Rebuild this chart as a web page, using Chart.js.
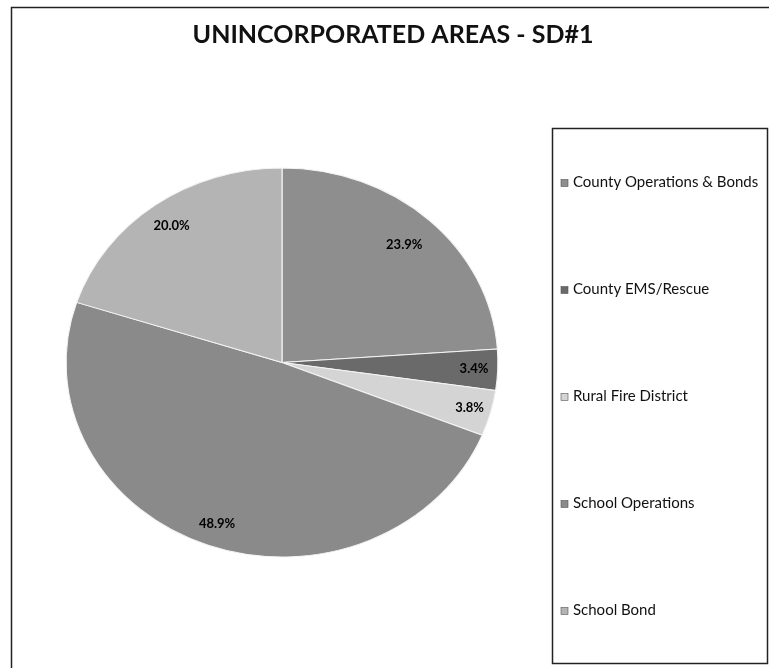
<!DOCTYPE html>
<html>
<head>
<meta charset="utf-8">
<script src="https://cdn.jsdelivr.net/npm/chart.js@4"></script>
<style>
    html, body { margin: 0; padding: 0; background: #fff; }
    #wrap { width: 769px; height: 668px; }
</style>
</head>
<body>
<div id="wrap"><canvas id="taxChart" width="769" height="668"></canvas></div>
<script>
// Data
const chartTitle = 'UNINCORPORATED AREAS - SD#1';
const categories = ['County Operations & Bonds', 'County EMS/Rescue', 'Rural Fire District', 'School Operations', 'School Bond'];
const shares = [23.9, 3.4, 3.8, 48.9, 20.0];
const sliceColors = ['#8e8e8e', '#6a6a6a', '#d4d4d4', '#8a8a8a', '#b4b4b4'];
// how far out (fraction of radius) each percent label sits
const labelRadius = [0.83, 0.89, 0.9, 0.88, 0.87];

const FONT = 'Lato, "Open Sans", sans-serif';
const STRETCH_X = 1.11; // the scanned pie is a bit wider than tall

// squash the pie horizontally around its centre
const stretchPlugin = {
    id: 'stretch',
    beforeDatasetsDraw(chart) {
        const arc = chart.getDatasetMeta(0).data[0];
        const ctx = chart.ctx;
        ctx.save();
        ctx.translate(arc.x, arc.y);
        ctx.scale(STRETCH_X, 1);
        ctx.translate(-arc.x, -arc.y);
    },
    afterDatasetsDraw(chart) {
        chart.ctx.restore();
    }
};

// Frame, title and boxed legend, drawn around the pie
const decorPlugin = {
    id: 'decor',
    beforeDraw(chart) {
        const ctx = chart.ctx;
        ctx.save();
        ctx.fillStyle = '#fff';
        ctx.fillRect(0, 0, chart.width, chart.height);
        ctx.strokeStyle = '#222';
        ctx.lineWidth = 1.5;
        ctx.strokeRect(11.5, 7.5, 800, 700);
        ctx.restore();
    },
    afterDraw(chart) {
        const ctx = chart.ctx;
        ctx.save();

        // title
        ctx.fillStyle = '#111';
        ctx.font = 'bold 25px ' + FONT;
        ctx.textAlign = 'center';
        ctx.textBaseline = 'middle';
        ctx.fillText(chartTitle, 393, 35);

        // legend box
        const box = { left: 552, top: 128, right: 767, bottom: 663 };
        ctx.strokeStyle = '#222';
        ctx.lineWidth = 1.5;
        ctx.strokeRect(box.left + 0.5, box.top + 0.5, box.right - box.left, box.bottom - box.top);

        const step = (box.bottom - box.top) / categories.length;
        ctx.font = '15px ' + FONT;
        ctx.textAlign = 'left';
        ctx.textBaseline = 'middle';
        categories.forEach((name, i) => {
            const y = box.top + step * (i + 0.5) + 1;
            ctx.fillStyle = sliceColors[i];
            ctx.fillRect(561, y - 3, 7, 7);
            ctx.strokeStyle = '#555';
            ctx.lineWidth = 0.6;
            ctx.strokeRect(561, y - 3, 7, 7);
            ctx.fillStyle = '#111';
            ctx.fillText(name, 573, y);
        });

        // percent labels inside slices
        const meta = chart.getDatasetMeta(0);
        ctx.font = 'bold 13px ' + FONT;
        ctx.textAlign = 'center';
        meta.data.forEach((arc, i) => {
            const p = arc.getProps(['x', 'y', 'startAngle', 'endAngle', 'outerRadius'], true);
            const mid = (p.startAngle + p.endAngle) / 2;
            const r = p.outerRadius * labelRadius[i];
            ctx.fillStyle = '#000';
            ctx.fillText(shares[i].toFixed(1) + '%', p.x + Math.cos(mid) * r * STRETCH_X, p.y + Math.sin(mid) * r);
        });

        ctx.restore();
    }
};

new Chart(document.getElementById('taxChart'), {
    type: 'pie',
    data: {
        labels: categories,
        datasets: [{
            data: shares,
            backgroundColor: sliceColors,
            borderColor: '#f4f4f4',
            borderWidth: 1
        }]
    },
    options: {
        responsive: false,
        animation: false,
        layout: {
            padding: { left: 87, right: 292, top: 167, bottom: 110 }
        },
        plugins: {
            legend: { display: false },
            title: { display: false },
            tooltip: { enabled: false }
        }
    },
    plugins: [stretchPlugin, decorPlugin]
});
</script>
</body>
</html>
